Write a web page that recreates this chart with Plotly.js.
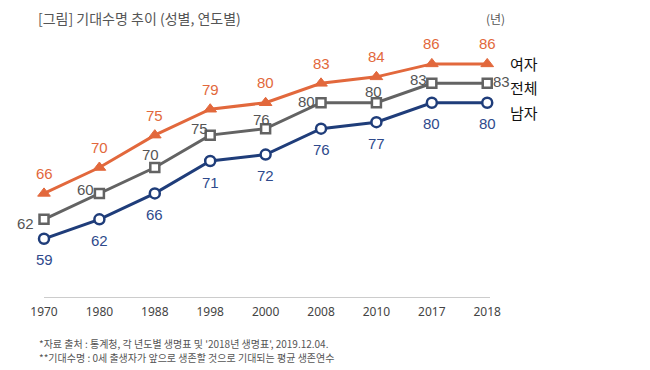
<!DOCTYPE html>
<html><head><meta charset="utf-8">
<script src="https://cdn.plot.ly/plotly-3.0.1.min.js"></script>
<style>html,body{margin:0;padding:0;background:#fff}#c{width:650px;height:370px}</style>
</head><body><div id="c"></div>
<script>
const years = ['1970','1980','1988','1998','2000','2008','2010','2017','2018'];
const female = [66,70,75,79,80,83,84,86,86];
const total = [62,66,70,75,76,80,80,83,83];
const totalLabels = ['62','60','70','75','76','80','80','83','83'];
const male = [59,62,66,71,72,76,77,80,80];
const seriesNames = ['여자','전체','남자'];

const numFont = 'Liberation Sans, Arial, sans-serif';
const krFont = 'Noto Sans CJK KR, sans-serif';
const cF = '#E2683C', cT = '#636363', cM = '#1F3D7A';

// label placement (pixels) for the total series
const totalShift = [[-19,-4],[-14,4],[-4,13],[-11,7],[-4,9],[-15,1],[-3,11],[-13,4],[14,2]];

const traces = [
  {x: years, y: female, name: seriesNames[0], type:'scatter', mode:'lines+markers',
   line:{color:cF,width:3}, marker:{symbol:'triangle-up',size:11,color:cF,line:{color:cF,width:1}}, cliponaxis:false},
  {x: years, y: total, name: seriesNames[1], type:'scatter', mode:'lines+markers',
   line:{color:cT,width:3}, marker:{symbol:'square',size:9,color:'#fff',line:{color:cT,width:2.5}}, cliponaxis:false},
  {x: years, y: male, name: seriesNames[2], type:'scatter', mode:'lines+markers',
   line:{color:cM,width:3}, marker:{symbol:'circle',size:10,color:'#fff',line:{color:cM,width:2.5}}, cliponaxis:false}
];

const ann = [];
years.forEach((yr,i)=>{
  ann.push({x:i, y:female[i], xref:'x', yref:'y', text:String(female[i]), showarrow:false, yshift:20,
    font:{family:numFont,size:15,color:cF}});
  ann.push({x:i, y:total[i], xref:'x', yref:'y', text:totalLabels[i], showarrow:false, xshift:totalShift[i][0], yshift:totalShift[i][1],
    font:{family:numFont,size:15,color:'#555'}});
  ann.push({x:i, y:male[i], xref:'x', yref:'y', text:String(male[i]), showarrow:false, yshift:-21,
    font:{family:numFont,size:15,color:'#2F4A8C'}});
});
ann.push(
  {text:'[그림] 기대수명 추이 (성별, 연도별)', xref:'paper', yref:'paper', x:0, xshift:-8, y:1, yshift:20, xanchor:'left', yanchor:'middle', showarrow:false, font:{family:krFont,size:14,color:'#555'}},
  {text:'(년)', xref:'paper', yref:'paper', x:1, xshift:-6, y:1, yshift:20, xanchor:'left', yanchor:'middle', showarrow:false, font:{family:krFont,size:12,color:'#555'}},
  {text:seriesNames[0], xref:'paper', yref:'y', x:1, xshift:18, y:female[8], xanchor:'left', yanchor:'middle', showarrow:false, font:{family:krFont,size:15,color:'#111'}},
  {text:seriesNames[1], xref:'paper', yref:'y', x:1, xshift:18, y:total[8], yshift:-4, xanchor:'left', yanchor:'middle', showarrow:false, font:{family:krFont,size:15,color:'#111'}},
  {text:seriesNames[2], xref:'paper', yref:'y', x:1, xshift:18, y:male[8], yshift:-10, xanchor:'left', yanchor:'middle', showarrow:false, font:{family:krFont,size:15,color:'#111'}},
  {text:'*자료 출처 : 통계청, 각 년도별 생명표 및 \'2018년 생명표\', 2019.12.04.', xref:'paper', yref:'paper', x:0, xshift:-7, y:0, yshift:-46, xanchor:'left', yanchor:'middle', showarrow:false, font:{family:krFont,size:10,color:'#555'}},
  {text:'**기대수명 : 0세 출생자가 앞으로 생존할 것으로 기대되는 평균 생존연수', xref:'paper', yref:'paper', x:0, xshift:-7, y:0, yshift:-60, xanchor:'left', yanchor:'middle', showarrow:false, font:{family:krFont,size:10,color:'#555'}}
);

const layout = {
  width:650, height:370, showlegend:false,
  paper_bgcolor:'#fff', plot_bgcolor:'#fff',
  margin:{l:44, r:160, t:38, b:73},
  xaxis:{type:'category', range:[0,8.05], showgrid:false, zeroline:false, showline:true, linecolor:'#cccccc', linewidth:1,
    ticks:'', ticklabelstandoff:4, tickfont:{family:'Noto Sans, sans-serif',size:12,color:'#444'}, fixedrange:true},
  yaxis:{range:[50,90], visible:false, fixedrange:true},
  annotations: ann
};
Plotly.newPlot('c', traces, layout, {displayModeBar:false, staticPlot:true});
</script></body></html>
